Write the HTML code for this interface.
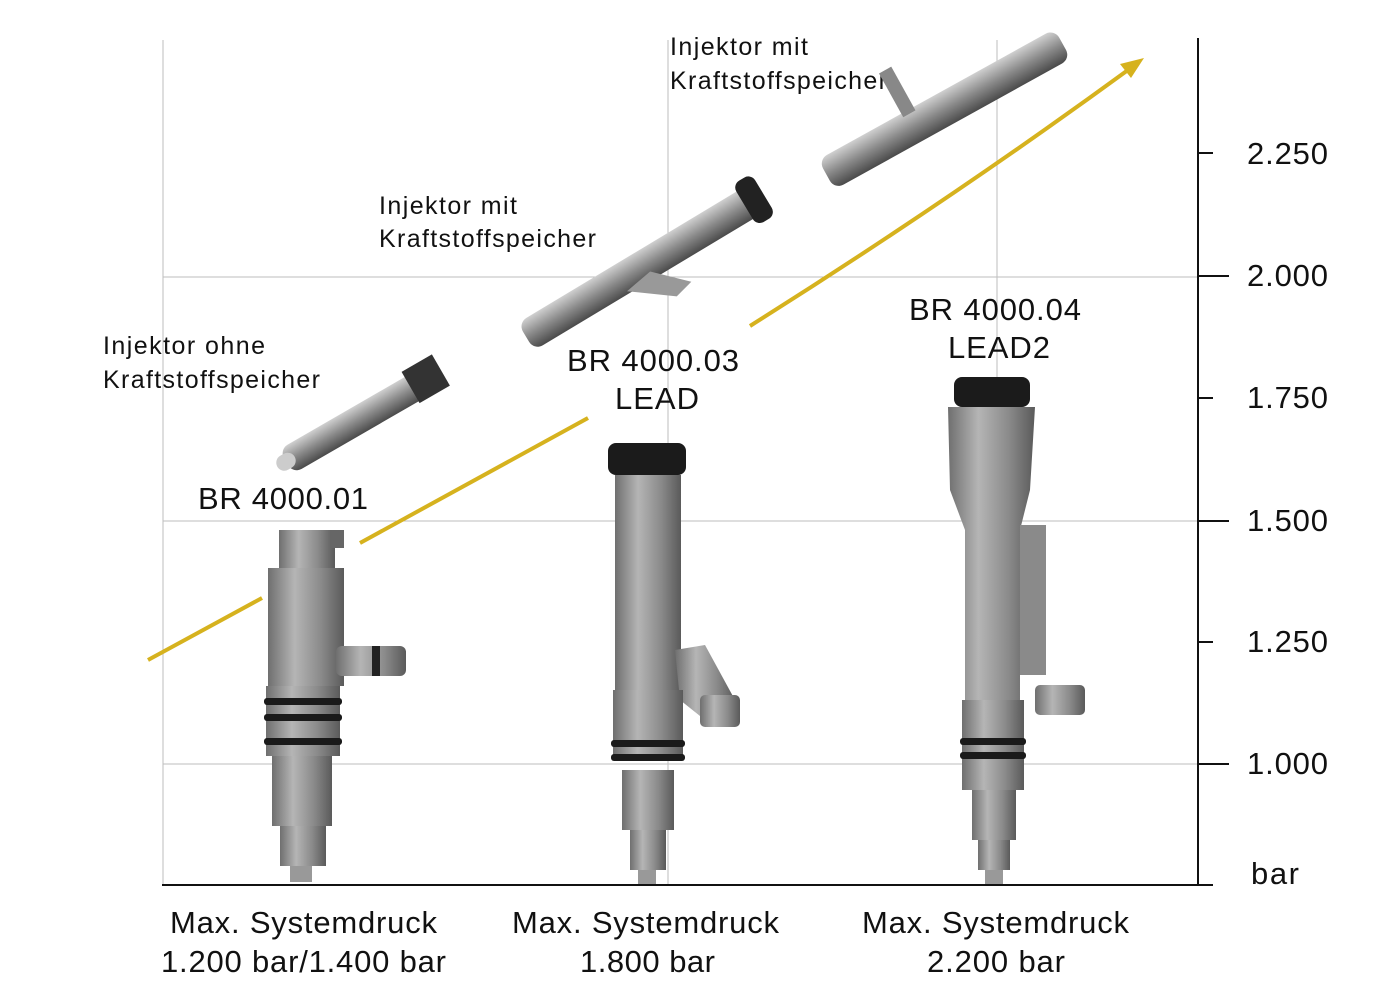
<!DOCTYPE html>
<html><head><meta charset="utf-8"><style>
body{margin:0;background:#fff;}
svg{display:block;}
text{font-family:"Liberation Sans",sans-serif;fill:#111;}
</style></head><body>
<svg width="1373" height="1000" viewBox="0 0 1373 1000" xmlns="http://www.w3.org/2000/svg">
<defs>
<linearGradient id="g" x1="0" x2="1"><stop offset="0" stop-color="#6f6f6f"/><stop offset="0.35" stop-color="#b5b5b5"/><stop offset="0.7" stop-color="#8a8a8a"/><stop offset="1" stop-color="#5a5a5a"/></linearGradient>
<linearGradient id="gd" x1="0" x2="0" y1="0" y2="1"><stop offset="0" stop-color="#d0d0d0"/><stop offset="0.5" stop-color="#8a8a8a"/><stop offset="1" stop-color="#4a4a4a"/></linearGradient>
</defs>
<g stroke="#bdbdbd" stroke-width="1">
<line x1="163" y1="40" x2="163" y2="885"/>
<line x1="668" y1="40" x2="668" y2="885"/>
<line x1="997" y1="40" x2="997" y2="885"/>
<line x1="163" y1="277" x2="1198" y2="277"/>
<line x1="163" y1="521" x2="1198" y2="521"/>
<line x1="163" y1="764" x2="1198" y2="764"/>
</g>
<g stroke="#111" stroke-width="2">
<line x1="1198" y1="38" x2="1198" y2="886"/>
<line x1="162" y1="885" x2="1213" y2="885"/>
<line x1="1198" y1="153" x2="1213" y2="153"/>
<line x1="1198" y1="276" x2="1229" y2="276"/>
<line x1="1198" y1="398" x2="1213" y2="398"/>
<line x1="1198" y1="521" x2="1229" y2="521"/>
<line x1="1198" y1="642" x2="1213" y2="642"/>
<line x1="1198" y1="764" x2="1229" y2="764"/>
</g>
<g font-size="31">
<text x="1247" y="164" textLength="81">2.250</text>
<text x="1247" y="286" textLength="81">2.000</text>
<text x="1247" y="408" textLength="81">1.750</text>
<text x="1247" y="531" textLength="81">1.500</text>
<text x="1247" y="652" textLength="81">1.250</text>
<text x="1247" y="774" textLength="81">1.000</text>
<text x="1251" y="884" textLength="48">bar</text>
</g>
<g stroke="#d6b21e" stroke-width="4" fill="none">
<path d="M148 660 L262 598"/>
<path d="M360 543 L588 418"/>
<path d="M750 326 Q950 200 1128 70"/>
</g>
<polygon points="1144,58 1120,64 1131,78" fill="#d6b21e"/>
<g font-size="31">
<text x="170" y="933" textLength="267">Max. Systemdruck</text>
<text x="161" y="972" textLength="285">1.200 bar/1.400 bar</text>
<text x="512" y="933" textLength="267">Max. Systemdruck</text>
<text x="580" y="972" textLength="135">1.800 bar</text>
<text x="862" y="933" textLength="267">Max. Systemdruck</text>
<text x="927" y="972" textLength="138">2.200 bar</text>
<text x="198" y="509" textLength="170">BR 4000.01</text>
<text x="567" y="371" textLength="172">BR 4000.03</text>
<text x="615" y="409" textLength="84">LEAD</text>
<text x="909" y="320" textLength="172">BR 4000.04</text>
<text x="948" y="358" textLength="102">LEAD2</text>
</g>
<g font-size="25">
<text x="103" y="354" textLength="162">Injektor ohne</text>
<text x="103" y="388" textLength="217">Kraftstoffspeicher</text>
<text x="379" y="214" textLength="138">Injektor mit</text>
<text x="379" y="247" textLength="217">Kraftstoffspeicher</text>
<text x="670" y="55" textLength="138">Injektor mit</text>
<text x="670" y="89" textLength="217">Kraftstoffspeicher</text>
</g>
<g>
<rect x="279" y="530" width="56" height="40" fill="url(#g)"/>
<rect x="330" y="530" width="14" height="18" fill="#666"/>
<rect x="268" y="568" width="76" height="118" fill="url(#g)"/>
<rect x="336" y="646" width="70" height="30" rx="6" fill="url(#g)"/>
<rect x="372" y="646" width="8" height="30" fill="#222"/>
<rect x="266" y="686" width="74" height="70" fill="url(#g)"/>
<g fill="#1a1a1a"><rect x="264" y="698" width="78" height="7" rx="3"/><rect x="264" y="714" width="78" height="7" rx="3"/><rect x="264" y="738" width="78" height="7" rx="3"/></g>
<rect x="272" y="756" width="60" height="70" fill="url(#g)"/>
<rect x="280" y="826" width="46" height="40" fill="url(#g)"/>
<rect x="290" y="866" width="22" height="16" fill="#999"/>
</g>
<g>
<rect x="608" y="443" width="78" height="32" rx="8" fill="#1b1b1b"/>
<rect x="615" y="475" width="66" height="215" fill="url(#g)"/>
<polygon points="675,650 705,645 735,700 705,720 680,700" fill="url(#g)"/>
<rect x="700" y="695" width="40" height="32" rx="5" fill="url(#g)"/>
<rect x="613" y="690" width="70" height="70" fill="url(#g)"/>
<g fill="#1a1a1a"><rect x="611" y="740" width="74" height="7" rx="3"/><rect x="611" y="754" width="74" height="7" rx="3"/></g>
<rect x="622" y="770" width="52" height="60" fill="url(#g)"/>
<rect x="630" y="830" width="36" height="40" fill="url(#g)"/>
<rect x="638" y="870" width="18" height="14" fill="#999"/>
</g>
<g>
<rect x="954" y="377" width="76" height="30" rx="8" fill="#1b1b1b"/>
<path d="M948 407 L1035 407 L1030 490 L1020 530 L1020 700 L965 700 L965 530 L950 490 Z" fill="url(#g)"/>
<rect x="1020" y="525" width="26" height="150" fill="#8a8a8a"/>
<rect x="1035" y="685" width="50" height="30" rx="5" fill="url(#g)"/>
<rect x="962" y="700" width="62" height="90" fill="url(#g)"/>
<g fill="#1a1a1a"><rect x="960" y="738" width="66" height="7" rx="3"/><rect x="960" y="752" width="66" height="7" rx="3"/></g>
<rect x="972" y="790" width="44" height="50" fill="url(#g)"/>
<rect x="978" y="840" width="32" height="30" fill="url(#g)"/>
<rect x="985" y="870" width="18" height="14" fill="#999"/>
</g>
<g transform="translate(285,460) rotate(-30)">
<rect x="0" y="-12" width="170" height="28" rx="10" fill="url(#gd)"/>
<rect x="145" y="-18" width="35" height="36" fill="#333"/>
<rect x="-10" y="-6" width="20" height="16" rx="8" fill="#ccc"/>
</g>
<g transform="translate(525,335) rotate(-31)">
<rect x="0" y="-14" width="265" height="32" rx="10" fill="url(#gd)"/>
<rect x="255" y="-22" width="22" height="48" rx="8" fill="#222"/>
<polygon points="110,15 150,45 170,40 140,10" fill="#999"/>
</g>
<g transform="translate(825,172) rotate(-29)">
<rect x="0" y="-14" width="270" height="34" rx="10" fill="url(#gd)"/>
<rect x="95" y="-60" width="14" height="50" fill="#888"/>
</g>
</svg>
</body></html>
